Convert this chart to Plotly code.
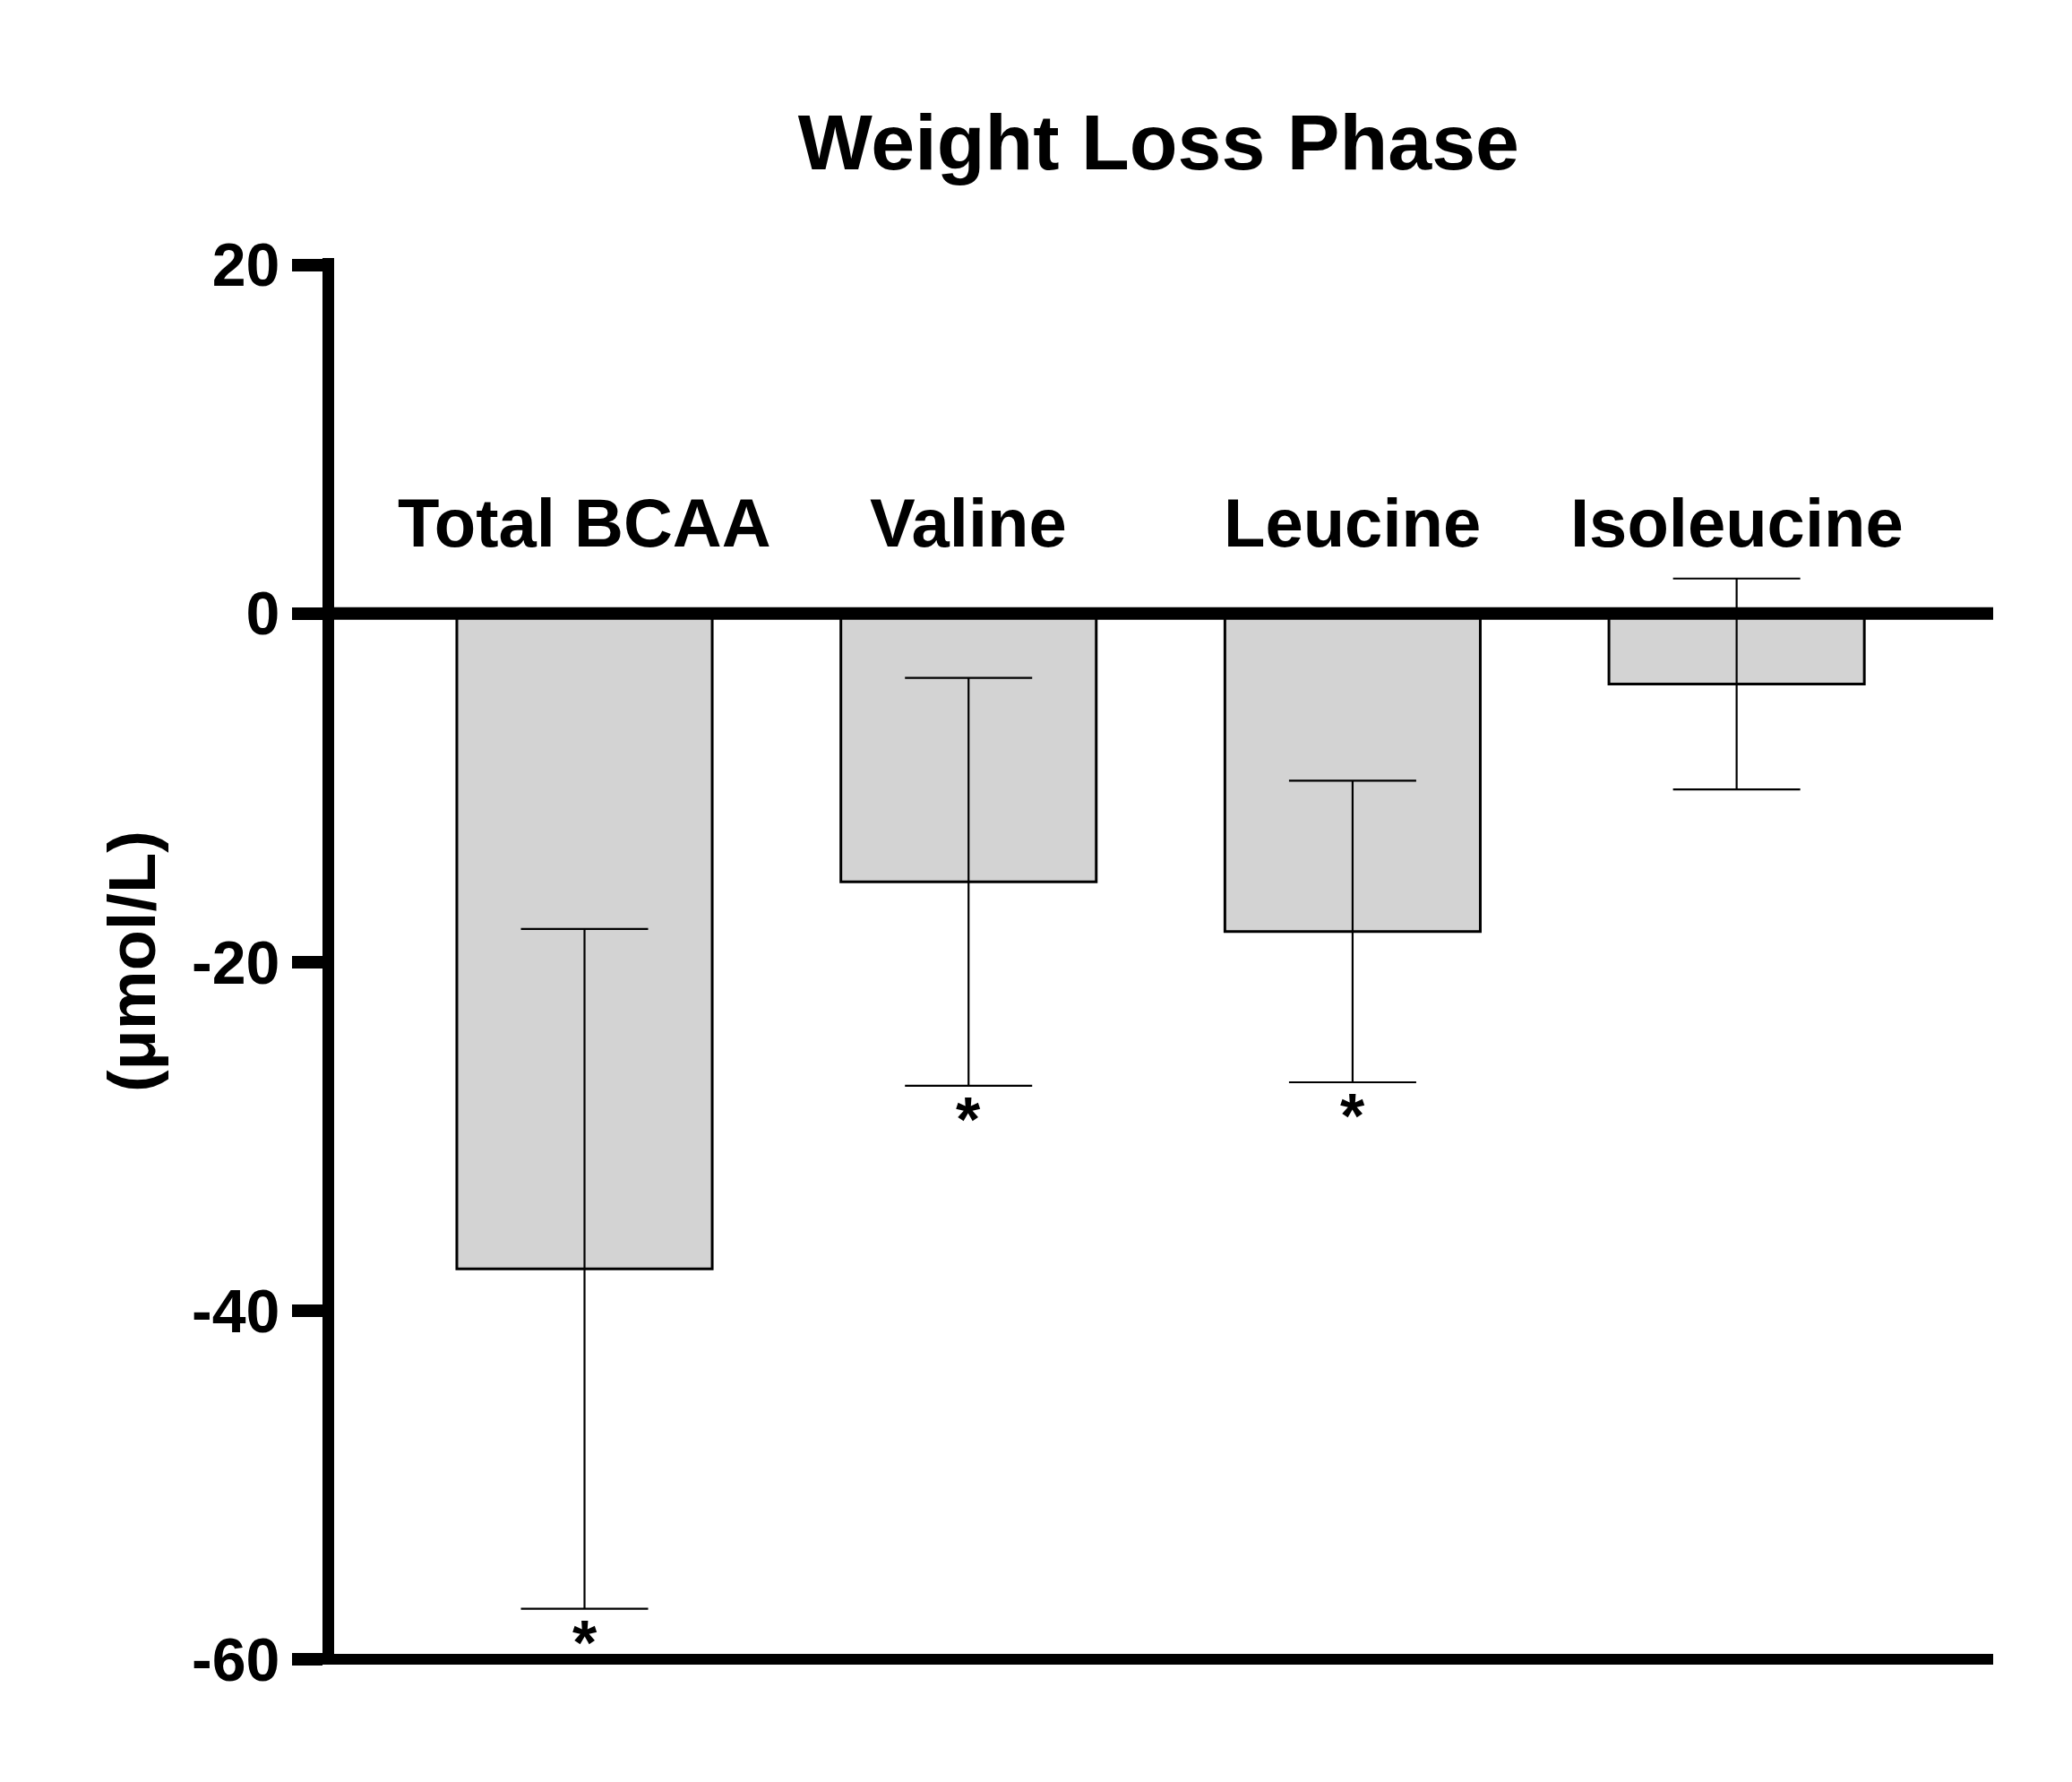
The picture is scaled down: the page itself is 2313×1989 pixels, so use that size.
import plotly.graph_objects as go

categories = ["Total BCAA", "Valine", "Leucine", "Isoleucine"]
means = [-37.6, -15.4, -18.25, -4.05]
errors = [19.5, 11.7, 8.65, 6.05]
significant = [True, True, True, False]
y_ticks = [20, 0, -20, -40, -60]

FONT = "Liberation Sans, Arial, Helvetica, sans-serif"

# page has an 8px body margin; keep figure inside the window
W, H = 2297, 1973

fig = go.Figure()
fig.add_trace(go.Bar(
    x=categories,
    y=means,
    width=0.665,
    marker=dict(color="#d3d3d3", line=dict(color="black", width=3)),
    error_y=dict(type="data", array=errors, symmetric=True,
                 color="black", thickness=2.2, width=71),
    showlegend=False,
))

annotations = []
for c in categories:
    annotations.append(dict(
        x=c, y=5.2, xref="x", yref="y", text="<b>%s</b>" % c,
        showarrow=False, xanchor="center", yanchor="middle",
        font=dict(family=FONT, size=76, color="black"),
    ))
for c, m, e, s in zip(categories, means, errors, significant):
    if s:
        annotations.append(dict(
            x=c, y=m - e, xref="x", yref="y", text="<b>*</b>",
            showarrow=False, xanchor="center", yanchor="top", yshift=3,
            font=dict(family=FONT, size=70, color="black"),
        ))
annotations.append(dict(
    x=-0.122, y=0.5, xref="paper", yref="paper", text="<b>(μmol/L)</b>",
    showarrow=False, textangle=-90, xanchor="center", yanchor="middle",
    font=dict(family=FONT, size=74, color="black"),
))

fig.update_layout(
    width=W, height=H,
    margin=dict(l=365, r=80, t=280, b=123),
    plot_bgcolor="white", paper_bgcolor="white",
    title=dict(text="<b>Weight Loss Phase</b>", x=0.497, xref="paper",
               y=1 - 150 / H, yref="container", xanchor="center", yanchor="middle",
               font=dict(family=FONT, size=88, color="black")),
    annotations=annotations,
    shapes=[
        dict(type="line", xref="paper", yref="y", x0=0, x1=1, y0=0, y1=0,
             line=dict(color="black", width=14), layer="above"),
        dict(type="line", xref="paper", yref="y", x0=0, x1=1, y0=-60, y1=-60,
             line=dict(color="black", width=12), layer="above"),
    ],
)
fig.update_xaxes(
    range=[-0.652, 3.668], showticklabels=False, ticks="",
    showline=False, showgrid=False, zeroline=False,
)
fig.update_yaxes(
    range=[-60.31, 20.39], tickvals=y_ticks, ticktext=["<b>%d</b>" % v for v in y_ticks],
    ticks="outside", ticklen=34, tickwidth=14, tickcolor="black",
    showline=True, linewidth=13, linecolor="black", showgrid=False, zeroline=False,
    tickfont=dict(family=FONT, size=68, color="black"),
)

fig.write_html("out.html")
